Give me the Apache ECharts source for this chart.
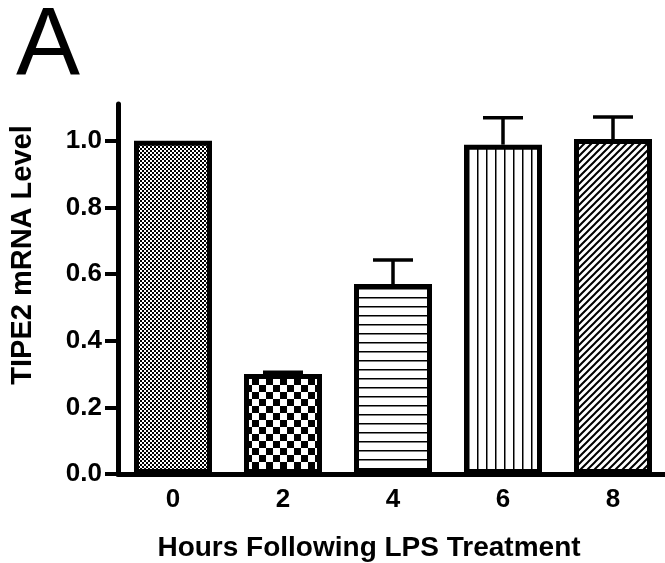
<!DOCTYPE html>
<html>
<head>
<meta charset="utf-8">
<script src="https://cdn.jsdelivr.net/npm/echarts@6/dist/echarts.min.js"></script>
<style>
  html, body { margin: 0; padding: 0; background: #fff; }
  #chart { width: 665px; height: 563px; }
</style>
</head>
<body>
<div id="chart"></div>
<script>
// data
var hours = ['0', '2', '4', '6', '8']
var meanLevel = [1.0, 0.30, 0.57, 0.988, 1.005]
var semLevel = [0, 0.005, 0.072, 0.081, 0.066]
var yTicks = [0, 0.2, 0.4, 0.6, 0.8, 1.0]

var FONT = '"Liberation Sans", Arial, sans-serif'

// hatch / checker fills
function tile(w, h, draw) {
  var c = document.createElement('canvas')
  c.width = w
  c.height = h
  var ctx = c.getContext('2d')
  ctx.fillStyle = '#fff'
  ctx.fillRect(0, 0, w, h)
  ctx.fillStyle = '#000'
  ctx.strokeStyle = '#000'
  draw(ctx)
  return { image: c, repeat: 'repeat' }
}

var patterns = [
  tile(4, 4, function(ctx) {
    ctx.fillRect(0, 0, 2, 2)
    ctx.fillRect(2, 2, 2, 2)
  }),
  tile(14, 14, function(ctx) {
    ctx.fillRect(0, 0, 7, 7)
    ctx.fillRect(7, 7, 7, 7)
  }),
  tile(9, 9, function(ctx) {
    ctx.fillRect(0, 0, 9, 1.5)
  }),
  tile(9, 9, function(ctx) {
    ctx.fillRect(0, 0, 1.5, 9)
  }),
  tile(7, 7, function(ctx) {
    ctx.lineWidth = 2
    ctx.beginPath()
    ctx.moveTo(0, 7); ctx.lineTo(7, 0)
    ctx.moveTo(-1, 1); ctx.lineTo(1, -1)
    ctx.moveTo(6, 8); ctx.lineTo(8, 6)
    ctx.stroke()
  })
]

var barData = meanLevel.map(function(v, i) {
  return { value: v, itemStyle: { color: patterns[i] } }
})
var errData = meanLevel.map(function(v, i) {
  return [i, v, semLevel[i]]
})

var chart = echarts.init(document.getElementById('chart'))
chart.setOption({
  animation: false,
  graphic: [{
    type: 'text',
    left: 16,
    top: 0,
    style: { text: 'A', font: 'normal 96px ' + FONT, fill: '#000' }
  }],
  grid: { left: 118, right: -3, top: 104, bottom: 89, outerBoundsMode: 'none' },
  xAxis: {
    type: 'category',
    data: hours,
    name: 'Hours Following LPS Treatment',
    nameLocation: 'middle',
    nameGap: 60,
    nameTextStyle: { fontFamily: FONT, fontWeight: 'bold', fontSize: 28, color: '#000', padding: [0, 48, 0, 0] },
    axisLine: { lineStyle: { color: '#000', width: 5 } },
    axisTick: { alignWithLabel: true, length: 11, lineStyle: { color: '#000', width: 4 } },
    axisLabel: { margin: 13, fontFamily: FONT, fontWeight: 'bold', fontSize: 26, color: '#000' }
  },
  yAxis: {
    type: 'value',
    min: 0,
    max: 1.11,
    name: 'TIPE2 mRNA Level',
    nameLocation: 'middle',
    nameGap: 81,
    nameTextStyle: { fontFamily: FONT, fontWeight: 'bold', fontSize: 29, color: '#000', padding: [0, 0, 0, 68] },
    splitLine: { show: false },
    axisLine: { show: true, lineStyle: { color: '#000', width: 5 } },
    axisTick: { show: true, customValues: yTicks, length: 13, lineStyle: { color: '#000', width: 4 } },
    axisLabel: {
      customValues: yTicks,
      margin: 16,
      fontFamily: FONT,
      fontWeight: 'bold',
      fontSize: 26,
      color: '#000',
      formatter: function(v) { return v.toFixed(1) }
    }
  },
  series: [{
    type: 'bar',
    data: barData,
    barWidth: 78,
    itemStyle: { borderColor: '#000', borderWidth: 5 }
  }, {
    type: 'custom',
    data: errData,
    z: 1,
    renderItem: function(params, api) {
      var i = api.value(0)
      var v = api.value(1)
      var e = api.value(2)
      if (!e) return
      var p0 = api.coord([i, v])
      var p1 = api.coord([i, v + e])
      var st = { stroke: '#000', lineWidth: 3.5 }
      return {
        type: 'group',
        children: [
          { type: 'line', shape: { x1: p0[0], y1: p0[1], x2: p1[0], y2: p1[1] }, style: st },
          { type: 'line', shape: { x1: p1[0] - 20, y1: p1[1], x2: p1[0] + 20, y2: p1[1] }, style: st }
        ]
      }
    }
  }]
})
</script>
</body>
</html>
